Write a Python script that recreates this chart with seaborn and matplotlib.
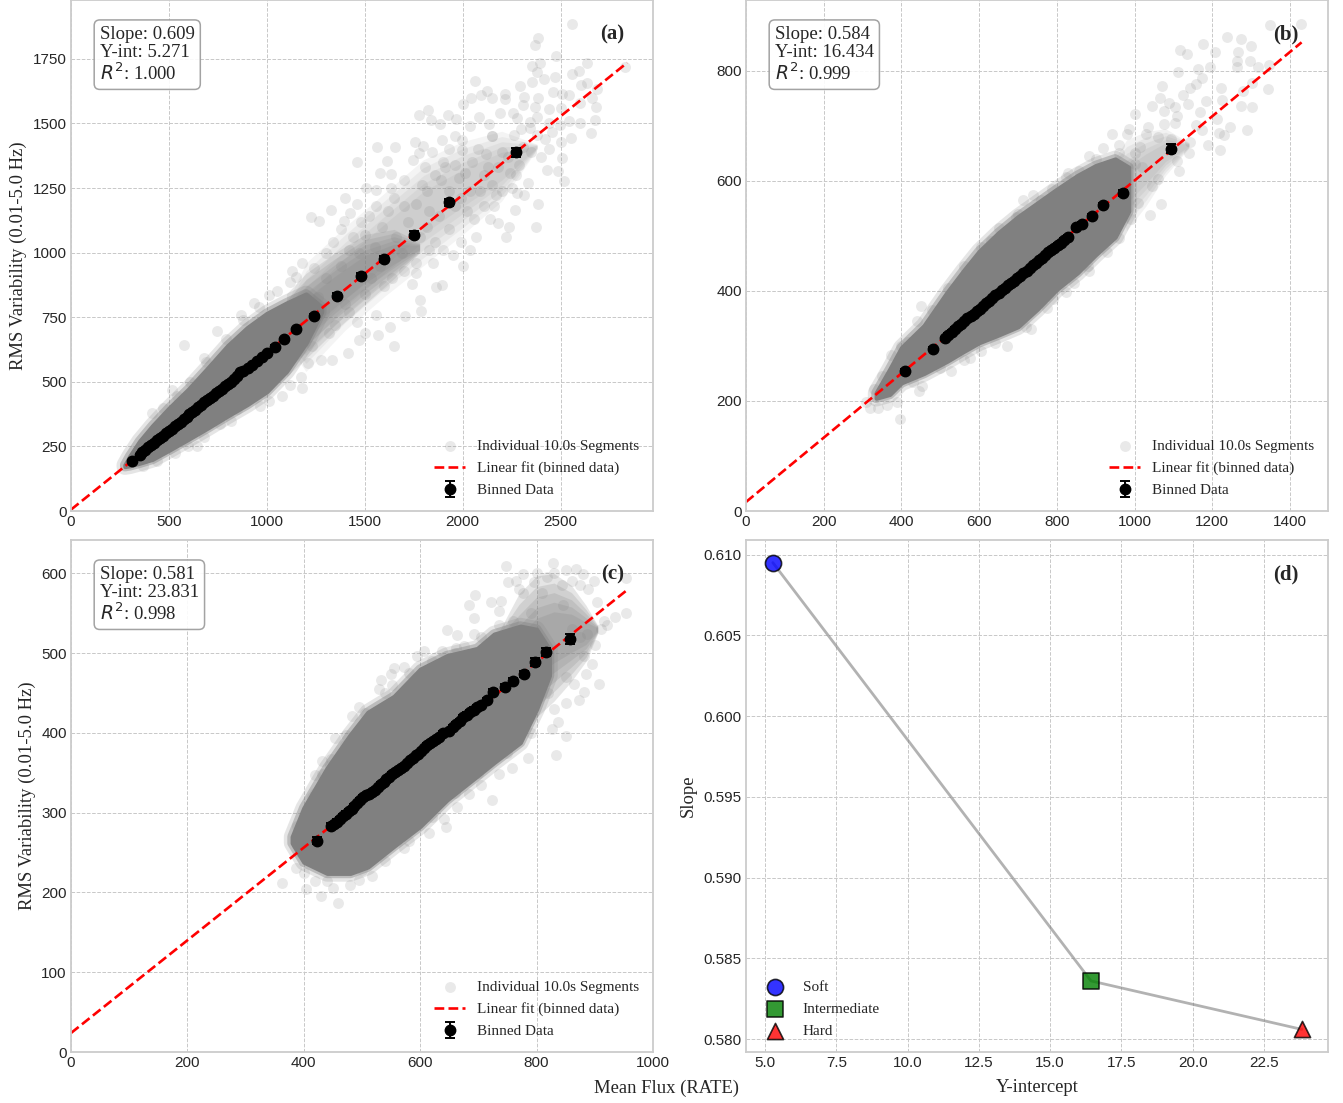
import matplotlib
matplotlib.use("Agg")
import matplotlib.pyplot as plt
import seaborn as sns

sns.set_style("whitegrid")
plt.rcParams["font.family"] = ["Liberation Serif", "DejaVu Serif"]
plt.rcParams["mathtext.fontset"] = "dejavusans"

GREY = "#808080"

# binned points
a_bin_x = [310, 350, 365, 380, 395, 410, 425, 440, 455, 470, 485, 500, 515, 530, 545, 560, 575, 590, 605, 620, 635,
           650, 665, 680, 695, 710, 725, 740, 755, 770, 785, 800, 815, 830, 850, 865, 880, 905, 925, 950, 975, 1000,
           1040, 1090, 1150, 1240, 1360, 1480, 1600, 1750, 1930, 2270]
a_bin_y = [193, 218, 227, 237, 246, 255, 264, 273, 282, 291, 300, 310, 319, 328, 337, 346, 355, 364, 374, 383, 392,
           401, 410, 420, 429, 438, 447, 456, 465, 474, 483, 492, 501, 511, 524, 537, 542, 554, 566, 581, 596, 612,
           636, 664, 703, 755, 833, 910, 975, 1070, 1195, 1388]
a_bin_err = [4, 3, 3, 3, 3, 3, 3, 3, 3, 3, 3, 3, 3, 3, 3, 3, 3, 3, 3, 3, 3,
             3, 3, 3, 3, 3, 3, 3, 3, 3, 3, 3, 3, 4, 4, 4, 4, 4, 4, 5, 5, 5,
             6, 6, 7, 8, 9, 10, 11, 12, 14, 16]
b_bin_x = [410, 482, 512, 520, 530, 538, 546, 554, 562, 570, 578, 586, 594, 602, 610, 618, 626, 634, 642, 650, 658,
           666, 674, 682, 690, 698, 706, 714, 722, 730, 738, 746, 754, 762, 770, 778, 786, 794, 802, 810, 818, 828,
           850, 865, 890, 920, 970, 1093]
b_bin_y = [254, 295, 314, 320, 326, 331, 336, 340, 345, 350, 354, 359, 364, 368, 373, 378, 382, 387, 392, 397, 401,
           405, 410, 414, 419, 424, 428, 433, 437, 442, 447, 451, 456, 460, 465, 470, 475, 479, 484, 488, 493, 499,
           516, 522, 536, 556, 578, 659]
b_bin_err = [4, 3, 3, 3, 3, 3, 2, 2, 2, 2, 2, 2, 2, 2, 2, 2, 2, 2, 2, 2, 2,
             2, 2, 2, 2, 2, 2, 2, 2, 2, 2, 2, 2, 2, 2, 2, 2, 2, 3, 3, 3, 3,
             3, 3, 4, 4, 5, 8]
c_bin_x = [422, 447, 452, 457, 462, 467, 472, 477, 482, 487, 492, 497, 502, 507, 512, 517, 522, 527, 532, 537, 542,
           547, 552, 557, 562, 567, 572, 577, 582, 587, 592, 597, 602, 607, 612, 617, 622, 627, 632, 640, 650, 656,
           662, 668, 674, 680, 686, 692, 698, 704, 714, 725, 745, 760, 778, 798, 817, 857]
c_bin_y = [265, 284, 286, 289, 292, 296, 299, 302, 305, 309, 312, 316, 320, 322, 324, 326, 329, 332, 336, 339, 342,
           345, 349, 351, 353, 356, 359, 362, 366, 369, 372, 374, 377, 381, 385, 388, 390, 392, 395, 400, 402, 407,
           411, 415, 420, 423, 426, 429, 432, 435, 441, 452, 458, 465, 474, 489, 502, 518]
c_bin_err = [4, 3, 3, 3, 3, 3, 3, 3, 2, 2, 2, 2, 2, 2, 2, 2, 2, 2, 2, 2, 2,
             2, 2, 2, 2, 2, 2, 2, 2, 2, 2, 2, 2, 2, 2, 2, 2, 2, 2, 3, 3, 3,
             3, 3, 3, 3, 3, 3, 3, 3, 3, 3, 4, 4, 4, 5, 5, 6]

# fit lines, end points as seen in each panel
a_fit_x, a_fit_y = [0, 2840], [5.3, 1735]
b_fit_x, b_fit_y = [0, 1430], [16.4, 852]
c_fit_x, c_fit_y = [0, 955], [23.8, 579]

# the dense part of each cloud is too packed to read point by point,
# so it is kept as x / lower edge / upper edge
a_core_x = [275, 300, 350, 416, 500, 600, 700, 800, 900, 1000, 1100, 1200, 1280]
a_core_lo = [172, 175, 185, 200, 235, 278, 322, 368, 412, 462, 540, 650, 770]
a_core_hi = [178, 212, 270, 330, 398, 472, 555, 640, 710, 765, 805, 840, 790]
a_mid_x = [1100, 1200, 1350, 1500, 1650, 1780]
a_mid_lo = [520, 590, 700, 800, 900, 1000]
a_mid_hi = [840, 920, 1000, 1070, 1090, 1040]
a_halo_x = [1050, 1200, 1400, 1600, 1800, 2000, 2200, 2380]
a_halo_lo = [700, 540, 700, 830, 950, 1070, 1200, 1400]
a_halo_hi = [720, 960, 1100, 1230, 1360, 1430, 1470, 1420]

b_core_x = [335, 370, 400, 458, 517, 560, 600, 650, 700, 750, 800, 853, 900, 950, 985]
b_core_lo = [205, 212, 233, 250, 272, 290, 306, 320, 335, 367, 403, 433, 466, 498, 545]
b_core_hi = [215, 258, 297, 337, 397, 437, 472, 506, 535, 560, 585, 610, 628, 640, 625]
b_halo_x = [930, 980, 1030, 1080, 1140]
b_halo_lo = [600, 510, 555, 610, 660]
b_halo_hi = [620, 675, 690, 695, 670]

c_core_x = [380, 400, 440, 480, 510, 555, 600, 646, 698, 727, 772, 800, 822]
c_core_lo = [262, 238, 224, 224, 232, 258, 283, 316, 346, 363, 388, 430, 472]
c_core_hi = [270, 306, 356, 398, 426, 446, 480, 497, 506, 524, 534, 530, 505]
c_mid_x = [730, 770, 800, 830, 860, 885, 905]
c_mid_lo = [500, 395, 420, 440, 465, 490, 525]
c_mid_hi = [520, 575, 597, 600, 585, 560, 535]

# single 10 s segments that can be told apart
a_seg = [(2559, 1887), (2384, 1831), (2367, 1803), (2476, 1760), (2397, 1735), (2356, 1723), (2382, 1700), (2415, 1674),
         (2635, 1736), (2596, 1702), (2557, 1691), (2831, 1719), (2633, 1657), (2602, 1648), (2687, 1635), (2065, 1664),
         (2294, 1644), (2356, 1661), (2126, 1626), (2093, 1610), (2214, 1616), (2043, 1600), (2148, 1599), (2214, 1593),
         (2312, 1603), (2384, 1597), (2508, 1616), (2541, 1610), (2661, 1599), (2000, 1577), (1821, 1554), (1777, 1532),
         (1836, 1515), (1923, 1532), (1967, 1519), (1886, 1497), (2083, 1526), (2133, 1497), (2039, 1490), (2257, 1539),
         (2367, 1562), (2443, 1558), (2679, 1562), (2676, 1513), (2541, 1510), (2345, 1506), (2378, 1526), (2497, 1493),
         (2657, 1465), (2552, 1442), (2454, 1468), (2378, 1455), (2345, 1481), (2264, 1455), (2148, 1451), (1997, 1435),
         (1893, 1435), (1755, 1429), (1565, 1410), (1657, 1410), (1799, 1414), (1843, 1390), (1777, 1386), (1463, 1350),
         (1613, 1355), (1744, 1358), (1908, 1332), (1995, 1397), (2377, 1100), (2220, 1062), (2384, 1188), (2519, 1277),
         (2487, 1316), (2432, 1320), (2508, 1367), (2334, 1270), (2312, 1223), (2268, 1167), (2235, 1098), (2181, 1116),
         (2170, 1223), (1227, 1139), (1264, 1122), (1330, 1165), (1401, 1210), (1423, 1152), (1395, 1122), (1504, 1249),
         (1559, 1242), (1635, 1249), (1580, 1310), (1635, 1306), (2080, 1400), (2120, 1380), (2200, 1390), (2290, 1340),
         (2240, 1310), (2180, 1330), (2110, 1300), (2050, 1350), (1980, 1290), (1890, 1280), (1810, 1330), (1700, 1280),
         (1650, 1210), (1560, 1180), (1480, 1120), (1440, 1060), (1500, 1070), (1700, 1180), (1820, 1240), (1930, 1240),
         (2040, 1240), (2150, 1260), (2250, 1250), (2110, 1180), (2020, 1160), (2140, 1130), (2070, 1060), (1990, 1040),
         (1900, 1010), (1850, 960), (2000, 950), (1740, 880), (1649, 639), (1414, 611), (1332, 585), (1208, 572),
         (1277, 585), (1120, 488), (1175, 518), (1786, 776), (1707, 753), (1782, 817), (1864, 869), (1893, 875),
         (1570, 682), (1502, 688), (1473, 662), (1629, 714), (578, 643), (745, 695), (1179, 475), (1077, 446), (1013, 426),
         (964, 405), (817, 347), (641, 250), (416, 379), (514, 469), (680, 591), (866, 759), (934, 804), (1013, 836),
         (1120, 888), (1150, 905), (1050, 850), (960, 790), (880, 740), (790, 665), (690, 575), (610, 500), (540, 445),
         (470, 400), (1100, 560), (1010, 490), (920, 445), (850, 395), (760, 335), (680, 285), (600, 250), (530, 225),
         (440, 195), (370, 175), (1230, 640), (1320, 690), (1420, 770), (1600, 870), (1760, 960), (1860, 1040),
         (2280, 1230), (2420, 1440), (2500, 1430), (2600, 1500), (2460, 1620), (2280, 1520), (2190, 1540), (1960, 1450),
         (1300, 1000), (1340, 1040), (1380, 1090), (1420, 1010), (1460, 1190), (1520, 1140), (1550, 1020), (1590, 1100),
         (1620, 1160), (1660, 1060), (1690, 1000), (1720, 1120), (1760, 1190), (1790, 1260), (1830, 1160), (1860, 1300),
         (1900, 1350), (1930, 1400), (1960, 1340), (1990, 1210), (2010, 1310), (2060, 1130), (2090, 1240), (2130, 1330),
         (2160, 1180), (2200, 1240), (2230, 1370), (2270, 1300), (2310, 1410), (2350, 1390), (2400, 1370), (2440, 1400),
         (1780, 1060), (1820, 1100), (1880, 1140), (1930, 1090), (1960, 1180), (1760, 920), (1830, 1010), (1950, 990),
         (2040, 1010), (1700, 930), (1640, 900), (1580, 950), (1530, 900), (1470, 1000), (1380, 950), (1300, 900),
         (1240, 940), (1180, 960), (1130, 930), (1260, 830), (1400, 800), (1500, 840), (1560, 760), (1460, 730),
         (1350, 720), (2150, 1450), (2300, 1480), (2440, 1500), (2500, 1560), (2600, 1580), (2470, 1680), (2310, 1570)]
b_seg = [(1428, 885), (1349, 884), (1237, 861), (1274, 858), (1300, 846), (1175, 849), (1116, 839), (1134, 831),
         (1208, 834), (1267, 834), (1264, 819), (1297, 819), (1264, 808), (1318, 807), (1346, 811), (1193, 808),
         (1163, 804), (1112, 798), (1173, 787), (1158, 776), (1144, 769), (1124, 756), (1070, 772), (1065, 750),
         (1088, 741), (1223, 769), (1302, 779), (1344, 767), (1278, 764), (1183, 746), (1225, 747), (1137, 740),
         (1045, 736), (1104, 735), (1168, 726), (1275, 737), (1302, 734), (1075, 728), (1109, 719), (1002, 721),
         (1213, 713), (1035, 698), (1075, 703), (1104, 706), (1158, 701), (1245, 698), (1290, 692), (1218, 687),
         (1231, 683), (1173, 692), (986, 695), (941, 686), (981, 686), (961, 666), (1029, 685), (1060, 680), (1094, 677),
         (1144, 671), (1188, 665), (1220, 657), (1139, 650), (1109, 637), (1114, 619), (1015, 662), (882, 645), (857, 619),
         (823, 607), (788, 586), (739, 574), (714, 565), (695, 535), (630, 491), (1060, 604), (1068, 559), (1040, 538),
         (961, 496), (450, 372), (372, 284), (396, 168), (319, 187), (339, 187), (308, 199), (364, 193), (446, 218),
         (453, 228), (329, 221), (349, 245), (527, 254), (576, 278), (606, 290), (672, 300), (734, 331), (774, 369),
         (823, 399), (884, 436), (843, 414), (418, 308), (388, 198), (400, 300), (440, 345), (480, 365), (520, 405),
         (560, 445), (605, 480), (650, 515), (700, 540), (760, 565), (830, 615), (900, 640), (960, 650), (1000, 650),
         (1020, 625), (1045, 590), (1010, 560), (990, 530), (930, 470), (880, 445), (790, 385), (720, 335), (640, 305),
         (560, 275), (500, 260), (430, 235), (350, 215), (920, 660), (1000, 630)]
c_seg = [(748, 610), (829, 613), (776, 599), (764, 591), (751, 589), (850, 605), (867, 606), (879, 599), (899, 591),
         (953, 594), (954, 551), (921, 536), (915, 541), (904, 564), (889, 580), (875, 585), (844, 585), (818, 595),
         (795, 589), (776, 576), (738, 566), (721, 564), (695, 573), (683, 561), (735, 553), (692, 544), (646, 529),
         (664, 523), (692, 524), (675, 509), (661, 507), (606, 503), (638, 503), (595, 497), (555, 482), (573, 483),
         (549, 474), (532, 466), (552, 460), (529, 455), (495, 432), (482, 421), (454, 394), (472, 398), (432, 365),
         (446, 367), (420, 347), (432, 348), (434, 330), (414, 320), (389, 284), (389, 259), (386, 231), (362, 212),
         (403, 204), (429, 195), (458, 187), (420, 214), (451, 206), (480, 210), (495, 216), (517, 221), (572, 256),
         (615, 275), (644, 282), (641, 292), (664, 307), (724, 316), (705, 335), (684, 323), (735, 348), (757, 356),
         (786, 369), (833, 373), (850, 396), (836, 414), (827, 405), (873, 442), (850, 438), (830, 430), (881, 451),
         (907, 462), (885, 474), (865, 462), (896, 487), (881, 497), (887, 524), (860, 530), (845, 560), (810, 575),
         (790, 550), (760, 540), (900, 510), (875, 520), (910, 530), (935, 545), (850, 470), (820, 450), (790, 400),
         (750, 375), (700, 350), (660, 325), (620, 295), (580, 265), (540, 240), (500, 228), (440, 215), (400, 225),
         (395, 250), (400, 290), (420, 325), (445, 360), (470, 385), (505, 425), (540, 450), (580, 475), (620, 490),
         (660, 500), (705, 520), (735, 535), (770, 580), (800, 600), (830, 600), (860, 590)]

# panel (d)
state_names = ["Soft", "Intermediate", "Hard"]
state_intercept = [5.271, 16.434, 23.831]
state_slope = [0.6095, 0.5836, 0.5806]
state_colors = ["blue", "green", "red"]
state_markers = ["o", "s", "^"]

fit_text = ["Slope: 0.609\nY-int: 5.271\n$R^2$: 1.000",
            "Slope: 0.584\nY-int: 16.434\n$R^2$: 0.999",
            "Slope: 0.581\nY-int: 23.831\n$R^2$: 0.998"]
segment_label = "Individual 10.0s Segments"
W, H = 1343, 1103


def panel_axes(fig, left, top, right, bottom):
    return fig.add_axes([left / W, 1 - bottom / H, (right - left) / W, (bottom - top) / H])


def style_axes(ax, letter):
    ax.grid(True, linestyle="--", linewidth=0.7, color="#c8c8c8")
    ax.set_axisbelow(True)
    for s in ax.spines.values():
        s.set_color("#cccccc")
        s.set_linewidth(1.3)
    ax.tick_params(labelsize=11, pad=3, colors="#262626", length=0)
    for t in ax.get_xticklabels() + ax.get_yticklabels():
        t.set_fontfamily("Liberation Sans")
    ax.text(0.95, 0.932, letter, transform=ax.transAxes, ha="right", va="center", fontsize=15,
            fontweight="bold", color="#262626", zorder=10)


def draw_core(ax, x, lo, hi):
    # soft rim first, the solid body goes over its inner half
    ax.fill_between(x, lo, hi, facecolor="none", edgecolor=GREY, alpha=0.2, linewidth=12, joinstyle="round", zorder=1.1)
    ax.fill_between(x, lo, hi, facecolor="none", edgecolor=GREY, alpha=0.4, linewidth=7, joinstyle="round", zorder=1.15)
    ax.fill_between(x, lo, hi, color=GREY, linewidth=3, joinstyle="round", zorder=1.2)


def draw_fade(ax, x, lo, hi, alpha):
    # thin nested layers so a mid-density part has no hard edge
    for frac in (1.0, 0.85, 0.7, 0.55, 0.4):
        low = [(a + b) / 2 - (b - a) / 2 * frac for a, b in zip(lo, hi)]
        high = [(a + b) / 2 + (b - a) / 2 * frac for a, b in zip(lo, hi)]
        ax.fill_between(x, low, high, color=GREY, alpha=alpha / 3.5, linewidth=0, zorder=1.05)


def draw_flux(ax, segs, bx, by, berr, fx, fy, fades, core, note, letter, xlim, ylim, xticks, yticks):
    for x, lo, hi, al in fades:
        draw_fade(ax, x, lo, hi, al)
    draw_core(ax, *core)
    sns.scatterplot(x=[p[0] for p in segs], y=[p[1] for p in segs], ax=ax, color=GREY, alpha=0.17, s=62,
                    linewidth=0, label=segment_label, zorder=1.5)
    sns.lineplot(x=fx, y=fy, ax=ax, color="red", linestyle="--", linewidth=1.9,
                 label="Linear fit (binned data)", zorder=2)
    ax.errorbar(bx, by, yerr=berr, fmt="o", color="black", markersize=7.5, capsize=3.5, elinewidth=1.4,
                capthick=1.4, label="Binned Data", zorder=3)
    ax.set_xlim(xlim)
    ax.set_ylim(ylim)
    ax.set_xticks(xticks)
    ax.set_yticks(yticks)
    ax.legend(loc="lower right", frameon=False, fontsize=11, bbox_to_anchor=(1.0, 0.0), labelspacing=0.55,
              labelcolor="#262626")
    ax.text(0.0495, 0.95, note, transform=ax.transAxes, ha="left", va="top", fontsize=13.5, color="#262626",
            linespacing=1.09, zorder=10,
            bbox=dict(boxstyle="round,pad=0.3", facecolor="white", edgecolor="#999999", linewidth=1.1, alpha=0.9))
    style_axes(ax, letter)


fig = plt.figure(figsize=(W / 100, H / 100), dpi=100)

ax_a = panel_axes(fig, 71, 0, 653, 511)
draw_flux(ax_a, a_seg, a_bin_x, a_bin_y, a_bin_err, a_fit_x, a_fit_y,
          [(a_halo_x, a_halo_lo, a_halo_hi, 0.3), (a_mid_x, a_mid_lo, a_mid_hi, 0.6)],
          (a_core_x, a_core_lo, a_core_hi),
          fit_text[0], "(a)", (0, 2972), (0, 1978), range(0, 3000, 500), range(0, 2000, 250))
ax_a.set_ylabel("RMS Variability (0.01-5.0 Hz)", fontsize=13.4, color="#262626", labelpad=4)

ax_b = panel_axes(fig, 746, 0, 1328, 511)
draw_flux(ax_b, b_seg, b_bin_x, b_bin_y, b_bin_err, b_fit_x, b_fit_y,
          [(b_halo_x, b_halo_lo, b_halo_hi, 0.35)],
          (b_core_x, b_core_lo, b_core_hi),
          fit_text[1], "(b)", (0, 1498), (0, 929), range(0, 1600, 200), range(0, 1000, 200))

ax_c = panel_axes(fig, 71, 540, 653, 1052)
draw_flux(ax_c, c_seg, c_bin_x, c_bin_y, c_bin_err, c_fit_x, c_fit_y,
          [(c_mid_x, c_mid_lo, c_mid_hi, 0.7)],
          (c_core_x, c_core_lo, c_core_hi),
          fit_text[2], "(c)", (0, 1000), (0, 642), range(0, 1200, 200), range(0, 700, 100))
ax_c.set_ylabel("RMS Variability (0.01-5.0 Hz)", fontsize=13.4, color="#262626", labelpad=4)

ax_d = panel_axes(fig, 746, 540, 1328, 1052)
sns.lineplot(x=state_intercept, y=state_slope, ax=ax_d, color="grey", alpha=0.6, linewidth=2, sort=False, zorder=2)
for name, xv, yv, col, mk in zip(state_names, state_intercept, state_slope, state_colors, state_markers):
    sns.scatterplot(x=[xv], y=[yv], ax=ax_d, color=col, marker=mk, s=135, alpha=0.8, edgecolor="black",
                    linewidth=1.2, label=name, zorder=3)
ax_d.set_xlim(4.33, 24.75)
ax_d.set_ylim(0.5792, 0.6109)
ax_d.set_xticks([5, 7.5, 10, 12.5, 15, 17.5, 20, 22.5])
ax_d.set_yticks([0.58, 0.585, 0.59, 0.595, 0.6, 0.605, 0.61])
ax_d.set_yticklabels(["0.580", "0.585", "0.590", "0.595", "0.600", "0.605", "0.610"])
ax_d.legend(loc="lower left", frameon=False, fontsize=11, labelspacing=0.55, bbox_to_anchor=(0.0, 0.0),
            labelcolor="#262626")
ax_d.set_xlabel("Y-intercept", fontsize=13.4, color="#262626", labelpad=6)
ax_d.set_ylabel("Slope", fontsize=13.4, color="#262626", labelpad=5)
style_axes(ax_d, "(d)")

fig.text(667 / W, 1 - 1088 / H, "Mean Flux (RATE)", ha="center", va="center", fontsize=13.4, color="#262626")

fig.savefig("out.png", dpi=100)
plt.close(fig)
